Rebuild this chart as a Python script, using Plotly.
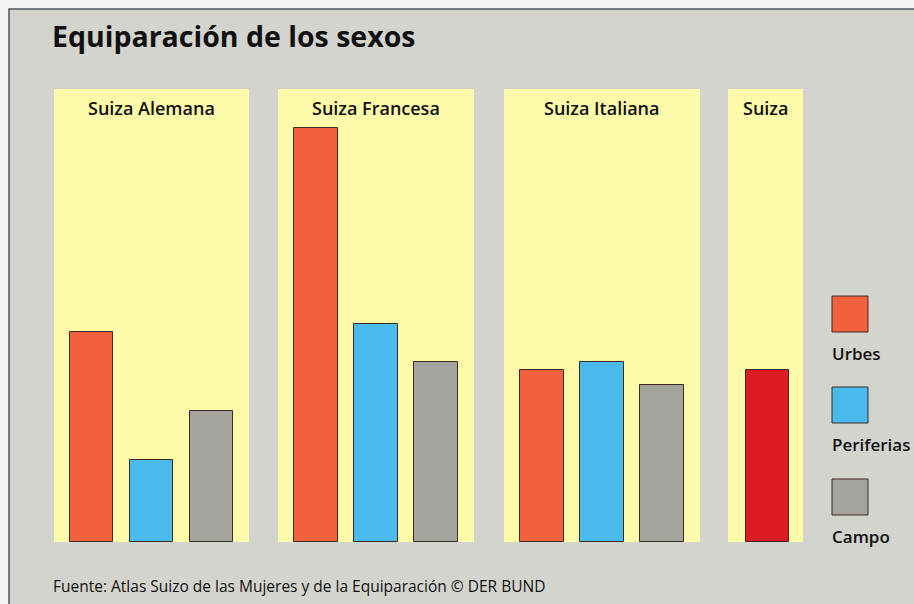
import plotly.graph_objects as go

# ---- data (relative index values) ----
regions = ["Suiza Alemana", "Suiza Francesa", "Suiza Italiana", "Suiza"]
categories = ["Urbes", "Periferias", "Campo"]
urbes = [210, 414, 172]
periferias = [82, 218, 180]
campo = [131, 180, 157]
suiza_total = [172]
footer_text = "Fuente: Atlas Suizo de las Mujeres y de la Equiparación © DER BUND"
title_text = "Equiparación de los sexos"

# ---- styles ----
W, H = 914, 604
RED = "#f2603e"
BLUE = "#4ab9ec"
GRAY = "#a4a39e"
DARKRED = "#dc1b23"
YELLOW = "#fdfaa9"
BG = "#d4d4ce"
OUTLINE = "#3b2b22"
FONT = "Open Sans"

def px_x(v):
    return v / W

def px_y(v):
    return (H - v) / H

panel_px = [(54, 249), (278, 474), (504, 700), (728, 803)]
y_bottom, y_top = 542, 89

fig = go.Figure()

colors = [RED, BLUE, GRAY]
for i, reg in enumerate(regions[:3]):
    vals = [urbes[i], periferias[i], campo[i]]
    fig.add_trace(go.Bar(
        x=[0, 1, 2], y=vals, width=0.73,
        marker=dict(color=colors, line=dict(color=OUTLINE, width=1)),
        xaxis="x" if i == 0 else f"x{i+1}", yaxis="y",
        hovertext=categories, name=reg, showlegend=False,
    ))
fig.add_trace(go.Bar(
    x=[0], y=suiza_total, width=0.73,
    marker=dict(color=DARKRED, line=dict(color=OUTLINE, width=1)),
    xaxis="x4", yaxis="y", name="Suiza", showlegend=False,
))

layout = dict(
    width=W, height=H,
    margin=dict(l=0, r=0, t=0, b=0),
    paper_bgcolor="#f3f3ef",
    plot_bgcolor="rgba(0,0,0,0)",
    bargap=0,
    yaxis=dict(domain=[px_y(y_bottom), px_y(y_top)], range=[0, y_bottom - y_top],
               visible=False, fixedrange=True),
)
for i, (x0, x1) in enumerate(panel_px):
    key = "xaxis" if i == 0 else f"xaxis{i+1}"
    rng = [-0.625, 2.625] if i < 3 else [-0.658, 0.592]
    layout[key] = dict(domain=[px_x(x0), px_x(x1)], range=rng, visible=False,
                       anchor="y", fixedrange=True)

shapes = []
# frame
shapes.append(dict(type="rect", xref="paper", yref="paper",
                   x0=px_x(9), x1=px_x(930), y0=px_y(620), y1=px_y(9),
                   fillcolor=BG, line=dict(color="#505560", width=1.5), layer="below"))
# yellow panels
for (x0, x1) in panel_px:
    shapes.append(dict(type="rect", xref="paper", yref="paper",
                       x0=px_x(x0), x1=px_x(x1), y0=px_y(y_bottom), y1=px_y(y_top),
                       fillcolor=YELLOW, line=dict(width=0), layer="below"))
# legend squares
legend_items = [("Urbes", RED, 296), ("Periferias", BLUE, 387), ("Campo", GRAY, 479)]
annotations = []
for name, col, top in legend_items:
    shapes.append(dict(type="rect", xref="paper", yref="paper",
                       x0=px_x(832), x1=px_x(868), y0=px_y(top + 36), y1=px_y(top),
                       fillcolor=col, line=dict(color=OUTLINE, width=1)))
    annotations.append(dict(text=name, xref="paper", yref="paper",
                            x=px_x(830), y=px_y(top + 57), xanchor="left", yanchor="middle",
                            showarrow=False,
                            font=dict(family=FONT, size=17, color="#111111", weight=600)))

annotations.append(dict(text=title_text, xref="paper", yref="paper",
                        x=px_x(50), y=px_y(36), xanchor="left", yanchor="middle",
                        showarrow=False,
                        font=dict(family=FONT, size=28.5, color="#111111", weight="bold")))
for reg, (x0, x1) in zip(regions, panel_px):
    annotations.append(dict(text=reg, xref="paper", yref="paper",
                            x=px_x((x0 + x1) / 2), y=px_y(108), xanchor="center",
                            yanchor="middle", showarrow=False,
                            font=dict(family=FONT, size=18, color="#111111", weight=600)))
annotations.append(dict(text=footer_text, xref="paper", yref="paper",
                        x=px_x(51), y=px_y(586), xanchor="left", yanchor="middle",
                        showarrow=False,
                        font=dict(family=FONT, size=15.5, color="#111111")))

layout["shapes"] = shapes
layout["annotations"] = annotations
fig.update_layout(**layout)
fig.write_html("out.html", config={"displayModeBar": False},
               post_script="document.body.style.margin='0';")
